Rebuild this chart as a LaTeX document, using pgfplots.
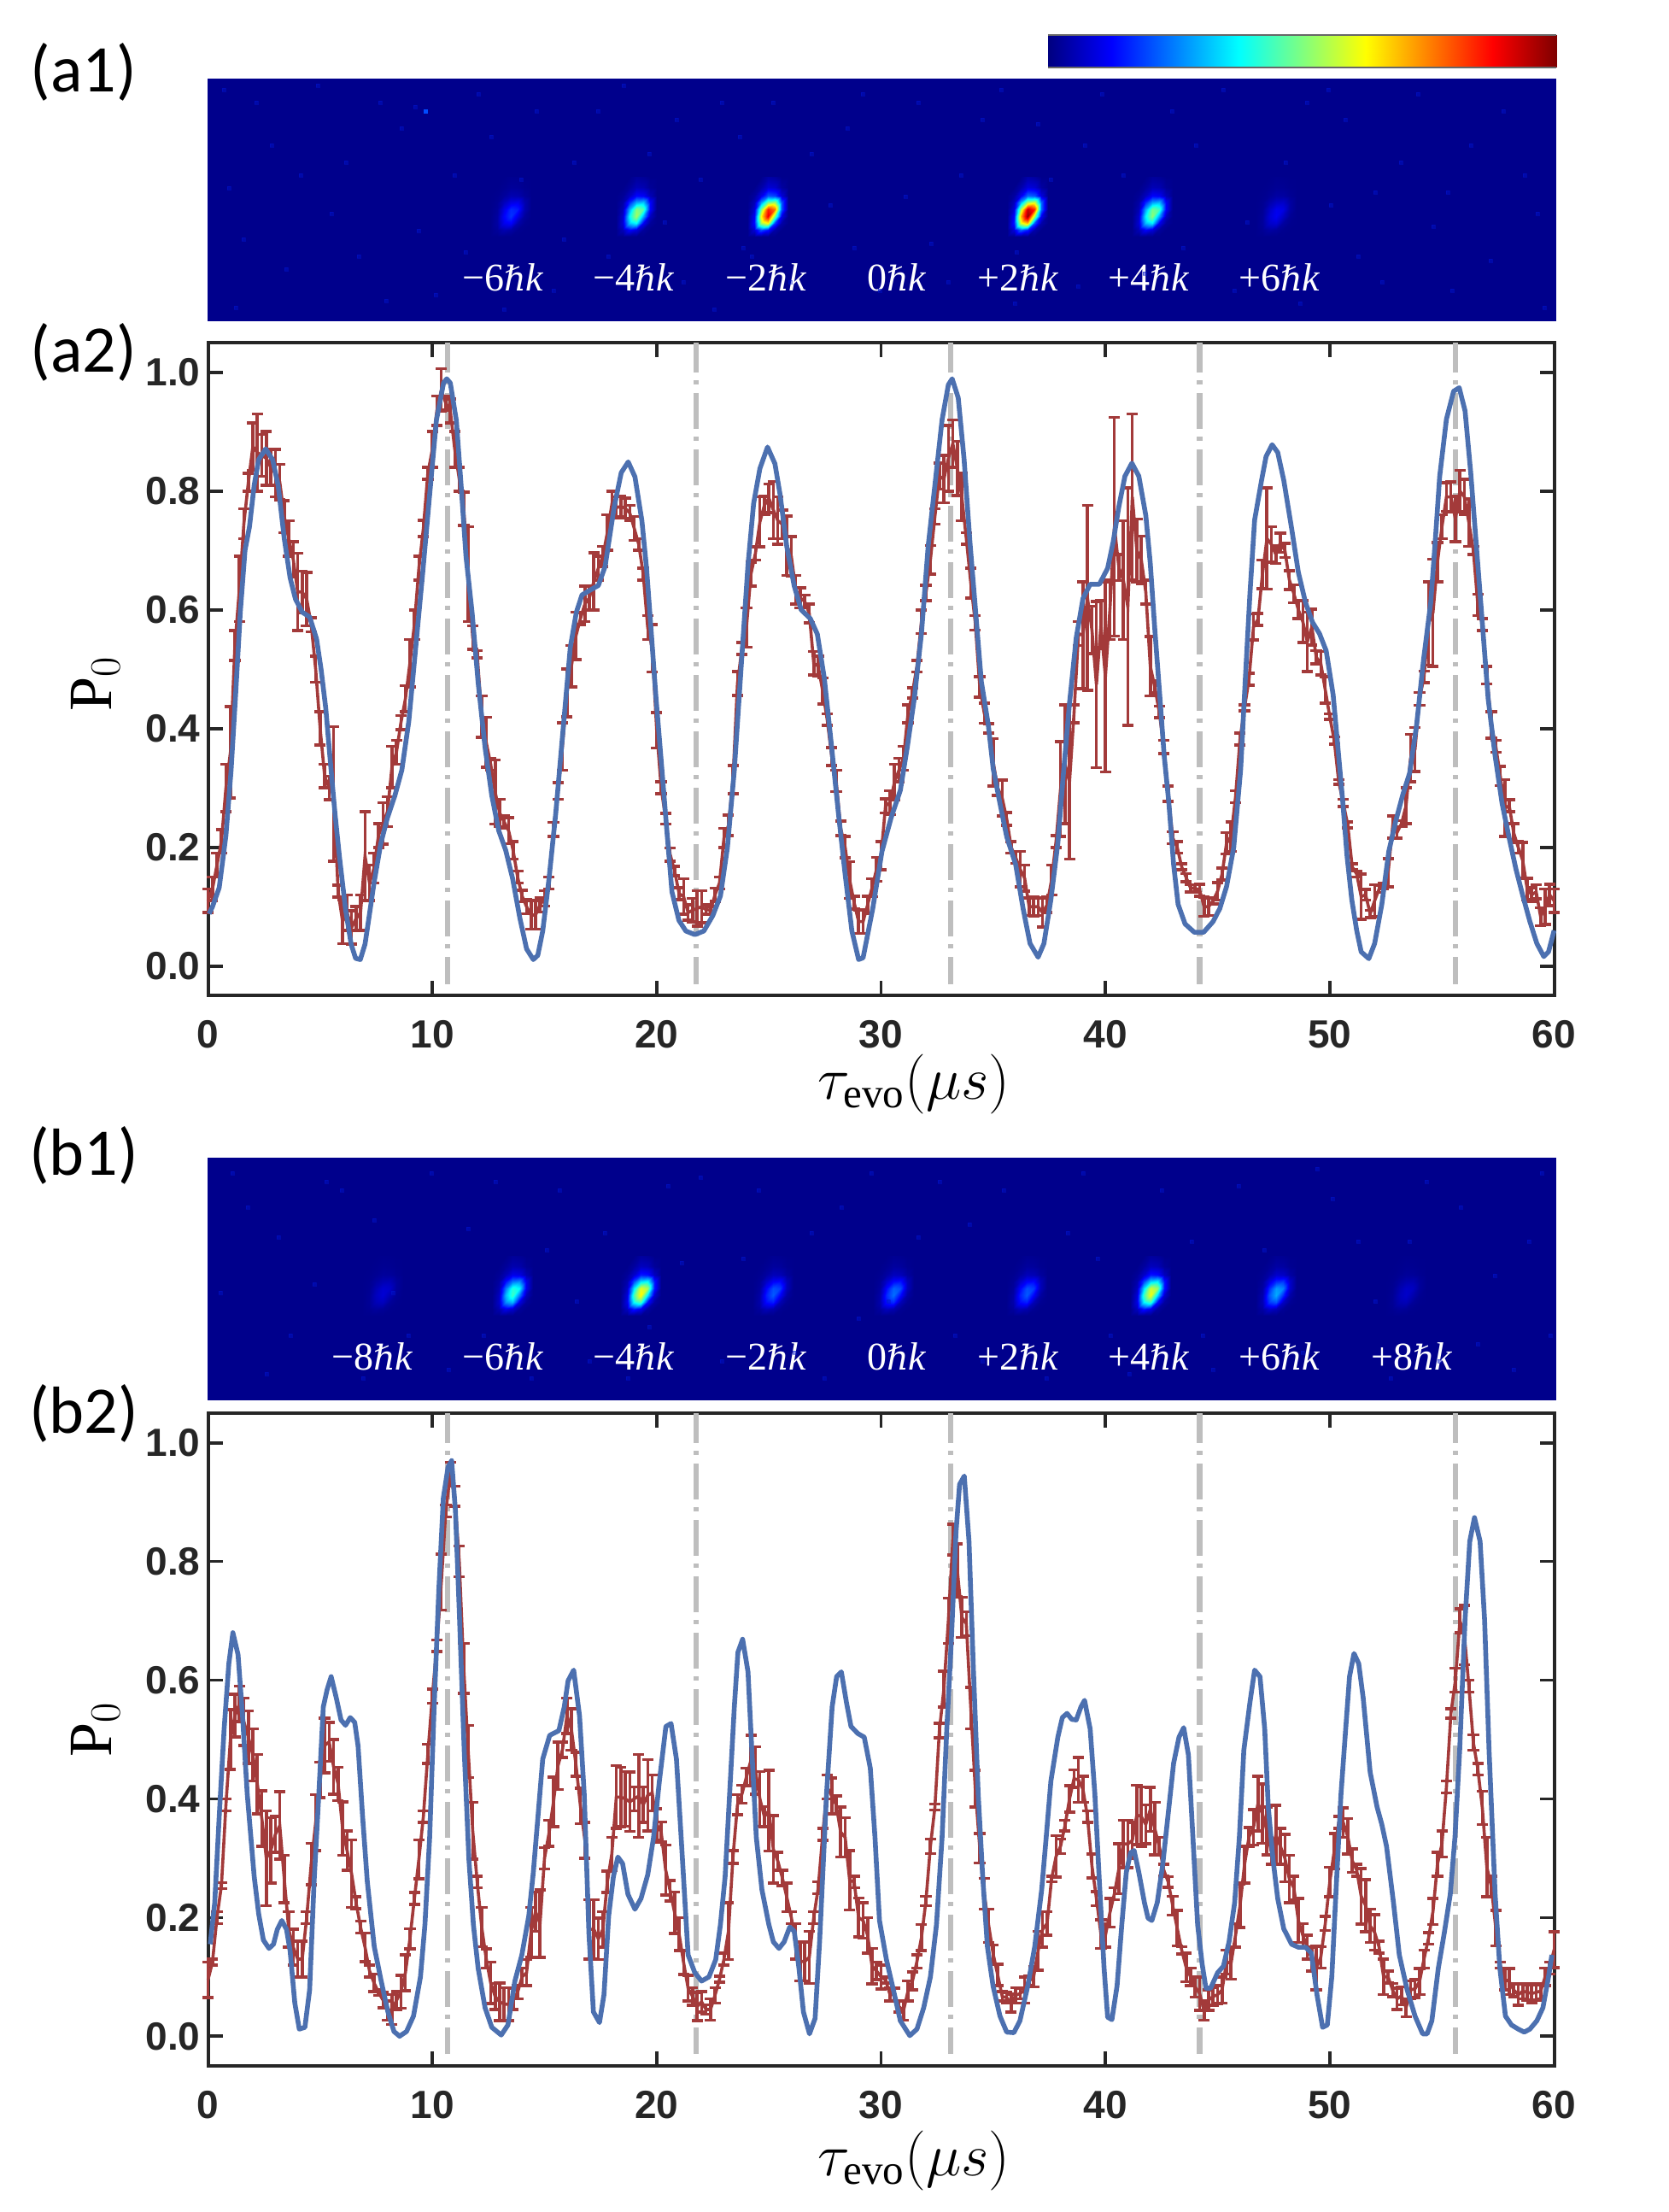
\RequirePackage{fix-cm}
\documentclass[border=0pt]{standalone}
\usepackage{fontspec}
\setmainfont{Liberation Sans}
\setmathrm{Liberation Serif}
\newfontfamily\panelfont{Carlito}
\newfontfamily\labfont{Liberation Serif}
\newfontfamily\hbfont{DejaVu Serif}
\usepackage{pgfplots}
\usepackage{pgfplotstable}
\pgfplotsset{compat=1.18}
\definecolor{dred}{HTML}{A33A3A}
\definecolor{dblue}{HTML}{4C70B0}
\definecolor{vgray}{HTML}{BEBEBE}
\definecolor{frame}{HTML}{262626}
\definecolor{imgbg}{RGB}{0,0,140}
\definecolor{speck}{RGB}{0,20,205}

% one camera spot, normalised, offsets in reference pixels
\pgfplotstableread{
x y v
-24 -40 0
-16 -40 0
-8 -40 0
0 -40 .03
8 -40 .02
16 -40 0
24 -40 0
-24 -28 0
-16 -28 0
-8 -28 .03
0 -28 .08
8 -28 .07
16 -28 .02
24 -28 0
-24 -18 0
-16 -18 .02
-8 -18 .10
0 -18 .22
8 -18 .20
16 -18 .08
24 -18 0
-24 -10 0
-16 -10 .05
-8 -10 .30
0 -10 .55
8 -10 .60
16 -10 .22
24 -10 0
-24 -2 0
-16 -2 .08
-8 -2 .55
0 -2 .95
8 -2 .85
16 -2 .22
24 -2 0
-24 6 0
-16 6 .12
-8 6 .70
0 6 1.0
8 6 .55
16 6 .10
24 6 0
-24 14 0
-16 14 .14
-8 14 .60
0 14 .70
8 14 .20
16 14 .03
24 14 0
-24 22 0
-16 22 .08
-8 22 .22
0 22 .15
8 22 .03
16 22 0
24 22 0
-24 30 0
-16 30 0
-8 30 0
0 30 0
8 30 0
16 30 0
24 30 0
}\spottable

\pgfplotstableread[row sep=\\]{
x y e\\
0 .11 .02\\ .2 .13 .02\\ .4 .17 .02\\ .6 .21 .02\\ .8 .30 .04\\ 1 .36 .077\\ 1.2 .54 .025\\ 1.4 .635 .055\\ 1.6 .745 .025\\ 1.8 .815 .015\\
2 .875 .04\\ 2.2 .865 .065\\ 2.4 .86 .035\\ 2.6 .855 .045\\ 2.8 .84 .03\\ 3 .83 .04\\ 3.2 .815 .03\\ 3.4 .757 .027\\ 3.6 .72 .03\\ 3.8 .685 .03\\
4 .63 .065\\ 4.2 .63 .035\\ 4.4 .618 .045\\ 4.6 .575 .012\\ 4.8 .50 .022\\ 5 .40 .028\\ 5.2 .32 .02\\ 5.4 .30 .02\\ 5.6 .29 .113\\ 5.8 .126 .01\\
6 .075 .037\\ 6.2 .09 .03\\ 6.4 .065 .028\\ 6.6 .08 .02\\ 6.8 .09 .03\\ 7 .185 .075\\ 7.2 .14 .03\\ 7.4 .165 .025\\ 7.6 .22 .02\\ 7.8 .24 .035\\
8 .26 .025\\ 8.2 .335 .035\\ 8.4 .36 .02\\ 8.6 .41 .012\\ 8.8 .45 .022\\ 9 .51 .04\\ 9.2 .575 .025\\ 9.4 .67 .02\\ 9.6 .737 .014\\ 9.8 .83 .01\\
10 .87 .03\\ 10.2 .935 .025\\ 10.4 .97 .036\\ 10.6 .948 .012\\ 10.8 .935 .02\\ 11 .87 .03\\ 11.2 .82 .02\\ 11.4 .77 .028\\ 11.6 .66 .08\\ 11.8 .553 .02\\
12 .525 .006\\ 12.2 .42 .035\\ 12.4 .377 .042\\ 12.6 .34 .01\\ 12.8 .293 .054\\ 13 .258 .023\\ 13.2 .243 .01\\ 13.4 .228 .022\\ 13.6 .195 .015\\ 13.8 .15 .01\\
14 .118 .01\\ 14.2 .1 .012\\ 14.4 .086 .024\\ 14.6 .086 .024\\ 14.8 .103 .012\\ 15 .114 .013\\ 15.2 .14 .01\\ 15.4 .23 .012\\ 15.6 .295 .014\\ 15.8 .37 .04\\
16 .46 .04\\ 16.2 .505 .035\\ 16.4 .556 .04\\ 16.6 .585 .01\\ 16.8 .61 .03\\ 17 .62 .02\\ 17.2 .648 .048\\ 17.4 .67 .02\\ 17.6 .69 .017\\ 17.8 .73 .03\\
18 .777 .023\\ 18.2 .772 .018\\ 18.4 .774 .017\\ 18.6 .771 .017\\ 18.8 .763 .013\\ 19 .737 .02\\ 19.2 .71 .01\\ 19.4 .66 .01\\ 19.6 .57 .02\\ 19.8 .535 .04\\
20 .397 .03\\ 20.2 .3 .01\\ 20.4 .248 .009\\ 20.6 .188 .011\\ 20.8 .16 .008\\ 21 .122 .01\\ 21.2 .117 .03\\ 21.4 .09 .013\\ 21.6 .094 .02\\ 21.8 .097 .03\\
22 .10 .027\\ 22.2 .095 .008\\ 22.4 .094 .006\\ 22.6 .12 .011\\ 22.8 .14 .01\\ 23 .216 .016\\ 23.2 .237 .017\\ 23.4 .314 .024\\ 23.6 .476 .02\\ 23.8 .535 .01\\
24 .57 .033\\ 24.2 .66 .02\\ 24.4 .695 .011\\ 24.6 .748 .042\\ 24.8 .776 .015\\ 25 .788 .024\\ 25.2 .768 .048\\ 25.4 .75 .04\\ 25.6 .744 .024\\ 25.8 .708 .05\\
26 .69 .033\\ 26.2 .634 .024\\ 26.4 .62 .017\\ 26.6 .614 .011\\ 26.8 .594 .016\\ 27 .51 .02\\ 27.2 .505 .017\\ 27.4 .463 .022\\ 27.6 .415 .01\\ 27.8 .353 .015\\
28 .312 .018\\ 28.2 .232 .012\\ 28.4 .2 .018\\ 28.6 .145 .031\\ 28.8 .107 .011\\ 29 .075 .02\\ 29.2 .075 .02\\ 29.4 .103 .015\\ 29.6 .132 .015\\ 29.8 .163 .02\\
30 .186 .024\\ 30.2 .27 .012\\ 30.4 .275 .02\\ 30.6 .31 .03\\ 30.8 .33 .02\\ 31 .35 .02\\ 31.2 .425 .015\\ 31.4 .46 .009\\ 31.6 .505 .01\\ 31.8 .58 .02\\
32 .628 .013\\ 32.2 .684 .024\\ 32.4 .757 .013\\ 32.6 .825 .022\\ 32.8 .82 .04\\ 33 .855 .055\\ 33.2 .88 .04\\ 33.4 .838 .046\\ 33.6 .79 .04\\ 33.8 .72 .01\\
34 .645 .025\\ 34.2 .578 .012\\ 34.4 .47 .017\\ 34.6 .426 .017\\ 34.8 .40 .008\\ 35 .343 .04\\ 35.2 .30 .013\\ 35.4 .283 .03\\ 35.6 .248 .011\\ 35.8 .2 .01\\
36 .183 .01\\ 36.2 .163 .03\\ 36.4 .148 .022\\ 36.6 .10 .015\\ 36.8 .1 .016\\ 37 .1 .015\\ 37.2 .09 .024\\ 37.4 .103 .013\\ 37.6 .145 .025\\ 37.8 .21 .01\\
38 .298 .08\\ 38.2 .34 .1\\ 38.4 .31 .13\\ 38.6 .425 .015\\ 38.8 .56 .02\\ 39 .557 .09\\ 39.2 .62 .156\\ 39.4 .566 .04\\ 39.6 .474 .14\\ 39.8 .575 .04\\
40 .487 .16\\ 40.2 .6 .05\\ 40.4 .74 .184\\ 40.6 .671 .022\\ 40.8 .65 .1\\ 41 .605 .2\\ 41.2 .79 .14\\ 41.4 .70 .053\\ 41.6 .684 .04\\ 41.8 .63 .02\\
42 .505 .05\\ 42.2 .47 .01\\ 42.4 .428 .01\\ 42.6 .369 .011\\ 42.8 .29 .013\\ 43 .216 .01\\ 43.2 .2 .01\\ 43.4 .167 .005\\ 43.6 .149 .007\\ 43.8 .131 .006\\
44 .131 .006\\ 44.2 .128 .01\\ 44.4 .1 .016\\ 44.6 .1 .015\\ 44.8 .11 .005\\ 45 .126 .015\\ 45.2 .155 .01\\ 45.4 .207 .018\\ 45.6 .218 .025\\ 45.8 .285 .01\\
46 .382 .01\\ 46.2 .435 .005\\ 46.4 .483 .01\\ 46.6 .571 .022\\ 46.8 .584 .01\\ 47 .66 .024\\ 47.2 .72 .085\\ 47.4 .71 .03\\ 47.6 .693 .015\\ 47.8 .713 .016\\
48 .70 .012\\ 48.2 .65 .016\\ 48.4 .627 .015\\ 48.6 .60 .015\\ 48.8 .58 .035\\ 49 .546 .05\\ 49.2 .571 .03\\ 49.4 .52 .011\\ 49.6 .51 .02\\ 49.8 .465 .022\\
50 .42 .005\\ 50.2 .38 .006\\ 50.4 .31 .004\\ 50.6 .275 .006\\ 50.8 .238 .005\\ 51 .167 .005\\ 51.2 .155 .005\\ 51.4 .117 .038\\ 51.6 .12 .009\\ 51.8 .088 .006\\
52 .11 .027\\ 52.2 .13 .006\\ 52.4 .135 .005\\ 52.6 .157 .024\\ 52.8 .234 .019\\ 53 .225 .01\\ 53.2 .24 .005\\ 53.4 .27 .03\\ 53.6 .35 .04\\ 53.8 .365 .037\\
54 .45 .011\\ 54.2 .487 .01\\ 54.4 .577 .07\\ 54.6 .595 .09\\ 54.8 .68 .033\\ 55 .74 .02\\ 55.2 .79 .024\\ 55.4 .79 .025\\ 55.6 .753 .038\\ 55.8 .80 .035\\
56 .79 .03\\ 56.2 .747 .04\\ 56.4 .70 .007\\ 56.6 .608 .018\\ 56.8 .575 .01\\ 57 .49 .015\\ 57.2 .406 .022\\ 57.4 .37 .01\\ 57.6 .32 .016\\ 57.8 .266 .048\\
58 .27 .01\\ 58.2 .224 .016\\ 58.4 .2 .01\\ 58.6 .178 .03\\ 58.8 .13 .018\\ 59 .12 .012\\ 59.2 .125 .012\\ 59.4 .083 .015\\ 59.6 .10 .03\\ 59.8 .12 .018\\
60 .11 .02\\
}\reda

\pgfplotstableread[row sep=\\]{
x y e\\
0 .095 .03\\ .2 .125 .005\\ .4 .20 .01\\ .6 .254 .005\\ .8 .39 .01\\ 1 .50 .05\\ 1.2 .54 .036\\ 1.4 .56 .03\\ 1.6 .53 .04\\ 1.8 .504 .044\\
2 .474 .044\\ 2.2 .425 .05\\ 2.4 .367 .047\\ 2.6 .30 .08\\ 2.8 .313 .055\\ 3 .34 .03\\ 3.2 .355 .057\\ 3.4 .265 .04\\ 3.6 .18 .03\\ 3.8 .15 .03\\
4 .13 .03\\ 4.2 .13 .03\\ 4.4 .2 .01\\ 4.6 .29 .035\\ 4.8 .36 .047\\ 5 .432 .03\\ 5.2 .49 .046\\ 5.4 .496 .033\\ 5.6 .454 .046\\ 5.8 .425 .028\\
6 .35 .045\\ 6.2 .313 .033\\ 6.4 .274 .057\\ 6.6 .225 .01\\ 6.8 .184 .01\\ 7 .15 .024\\ 7.2 .11 .01\\ 7.4 .09 .015\\ 7.6 .074 .005\\ 7.8 .061 .013\\
8 .043 .016\\ 8.2 .045 .025\\ 8.4 .06 .015\\ 8.6 .075 .028\\ 8.8 .107 .03\\ 9 .164 .017\\ 9.2 .232 .01\\ 9.4 .298 .033\\ 9.6 .37 .01\\ 9.8 .476 .016\\
10 .573 .012\\ 10.2 .658 .01\\ 10.4 .765 .047\\ 10.6 .885 .01\\ 10.8 .947 .02\\ 11 .91 .017\\ 11.2 .80 .026\\ 11.4 .62 .042\\ 11.6 .48 .044\\ 11.8 .346 .048\\
12 .26 .01\\ 12.2 .184 .033\\ 12.4 .131 .016\\ 12.6 .09 .035\\ 12.8 .067 .022\\ 13 .058 .032\\ 13.2 .054 .028\\ 13.4 .054 .028\\ 13.6 .063 .018\\ 13.8 .074 .011\\
14 .1 .015\\ 14.2 .107 .022\\ 14.4 .175 .042\\ 14.6 .21 .033\\ 14.8 .19 .057\\ 15 .30 .018\\ 15.2 .342 .022\\ 15.4 .395 .042\\ 15.6 .456 .04\\ 15.8 .483 .013\\
16 .54 .03\\ 16.2 .517 .035\\ 16.4 .458 .02\\ 16.6 .388 .03\\ 16.8 .33 .03\\ 17 .18 .05\\ 17.2 .18 .05\\ 17.4 .164 .035\\ 17.6 .18 .03\\ 17.8 .26 .018\\
18 .307 .028\\ 18.2 .403 .053\\ 18.4 .403 .05\\ 18.6 .40 .046\\ 18.8 .395 .05\\ 19 .40 .02\\ 19.2 .405 .07\\ 19.4 .39 .03\\ 19.6 .406 .06\\ 19.8 .41 .03\\
20 .357 .026\\ 20.2 .344 .017\\ 20.4 .28 .042\\ 20.6 .245 .017\\ 20.8 .208 .035\\ 21 .172 .028\\ 21.2 .124 .02\\ 21.4 .081 .022\\ 21.6 .067 .015\\ 21.8 .05 .024\\
22 .058 .017\\ 22.2 .045 .008\\ 22.4 .045 .018\\ 22.6 .069 .013\\ 22.8 .096 .005\\ 23 .13 .01\\ 23.2 .177 .048\\ 23.4 .302 .011\\ 23.6 .39 .017\\ 23.8 .408 .015\\
24 .437 .015\\ 24.2 .465 .042\\ 24.4 .448 .04\\ 24.6 .40 .046\\ 24.8 .37 .017\\ 25 .38 .068\\ 25.2 .315 .057\\ 25.4 .295 .015\\ 25.6 .267 .013\\ 25.8 .234 .024\\
26 .2 .01\\ 26.2 .16 .03\\ 26.4 .126 .033\\ 26.6 .126 .033\\ 26.8 .133 .044\\ 27 .2 .01\\ 27.2 .25 .01\\ 27.4 .34 .01\\ 27.6 .42 .02\\ 27.8 .405 .03\\
28 .39 .015\\ 28.2 .344 .042\\ 28.4 .335 .033\\ 28.6 .263 .05\\ 28.8 .26 .01\\ 29 .2 .033\\ 29.2 .195 .03\\ 29.4 .17 .03\\ 29.6 .118 .03\\ 29.8 .11 .015\\
30 .1 .02\\ 30.2 .095 .005\\ 30.4 .07 .011\\ 30.6 .07 .011\\ 30.8 .05 .009\\ 31 .043 .016\\ 31.2 .076 .017\\ 31.4 .093 .015\\ 31.6 .126 .011\\ 31.8 .166 .022\\
32 .228 .008\\ 32.2 .32 .012\\ 32.4 .386 .005\\ 32.6 .515 .012\\ 32.8 .585 .03\\ 33 .70 .038\\ 33.2 .837 .026\\ 33.4 .785 .045\\ 33.6 .706 .034\\ 33.8 .695 .02\\
34 .553 .035\\ 34.2 .417 .031\\ 34.4 .317 .025\\ 34.6 .24 .026\\ 34.8 .186 .028\\ 35 .138 .016\\ 35.2 .103 .018\\ 35.4 .067 .008\\ 35.6 .065 .009\\ 35.8 .056 .015\\
36 .069 .013\\ 36.2 .072 .009\\ 36.4 .078 .022\\ 36.6 .093 .008\\ 36.8 .10 .017\\ 37 .144 .033\\ 37.2 .18 .03\\ 37.4 .19 .02\\ 37.6 .265 .005\\ 37.8 .303 .035\\
38 .32 .012\\ 38.2 .355 .009\\ 38.4 .40 .022\\ 38.6 .434 .015\\ 38.8 .432 .038\\ 39 .416 .022\\ 39.2 .37 .01\\ 39.4 .287 .02\\ 39.6 .232 .012\\ 39.8 .172 .024\\
40 .17 .02\\ 40.2 .208 .024\\ 40.4 .24 .01\\ 40.6 .282 .042\\ 40.8 .324 .04\\ 41 .324 .04\\ 41.2 .33 .03\\ 41.4 .373 .05\\ 41.6 .37 .05\\ 41.8 .357 .033\\
42 .382 .037\\ 42.2 .35 .044\\ 42.4 .32 .015\\ 42.6 .28 .01\\ 42.8 .26 .009\\ 43 .22 .016\\ 43.2 .182 .03\\ 43.4 .145 .006\\ 43.6 .116 .024\\ 43.8 .10 .015\\
44 .083 .017\\ 44.2 .072 .028\\ 44.4 .043 .016\\ 44.6 .061 .017\\ 44.8 .067 .015\\ 45 .07 .015\\ 45.2 .078 .022\\ 45.4 .125 .02\\ 45.6 .123 .027\\ 45.8 .17 .02\\
46 .22 .037\\ 46.2 .289 .031\\ 46.4 .336 .016\\ 46.6 .352 .03\\ 46.8 .392 .046\\ 47 .375 .05\\ 47.2 .346 .04\\ 47.4 .31 .02\\ 47.6 .339 .05\\ 47.8 .32 .03\\
48 .30 .04\\ 48.2 .265 .04\\ 48.4 .25 .02\\ 48.6 .195 .037\\ 48.8 .17 .02\\ 49 .15 .02\\ 49.2 .13 .02\\ 49.4 .115 .037\\ 49.6 .133 .018\\ 49.8 .19 .012\\
50 .26 .025\\ 50.2 .312 .03\\ 50.4 .36 .01\\ 50.6 .36 .025\\ 50.8 .337 .03\\ 51 .296 .02\\ 51.2 .28 .01\\ 51.4 .236 .047\\ 51.6 .22 .044\\ 51.8 .186 .028\\
52 .175 .03\\ 52.2 .15 .01\\ 52.4 .10 .03\\ 52.6 .10 .01\\ 52.8 .078 .011\\ 53 .063 .018\\ 53.2 .068 .015\\ 53.4 .048 .015\\ 53.6 .078 .015\\ 53.8 .08 .015\\
54 .092 .022\\ 54.2 .13 .015\\ 54.4 .165 .01\\ 54.6 .21 .022\\ 54.8 .29 .02\\ 55 .324 .022\\ 55.2 .42 .01\\ 55.4 .544 .008\\ 55.6 .60 .02\\ 55.8 .70 .02\\
56 .676 .05\\ 56.2 .59 .01\\ 56.4 .495 .013\\ 56.6 .45 .01\\ 56.8 .385 .028\\ 57 .285 .05\\ 57.2 .253 .017\\ 57.4 .182 .03\\ 57.6 .12 .005\\ 57.8 .096 .018\\
58 .092 .022\\ 58.2 .078 .011\\ 58.4 .07 .018\\ 58.6 .076 .013\\ 58.8 .074 .013\\ 59 .072 .016\\ 59.2 .074 .013\\ 59.4 .076 .013\\ 59.6 .10 .015\\ 59.8 .115 .01\\
60 .146 .03\\
}\redb

\pgfplotsset{
  img/.style={scale only axis,width=789.5pt,height=142pt,xmin=243,xmax=1822,ymin=92,ymax=376,
    y dir=reverse,ticks=none,axis line style={draw=none},colormap/jet,point meta min=0,point meta max=1,
    axis background/.style={fill=imgbg},anchor=south west,clip=true},
  panel/.style={scale only axis,width=788pt,height=382.25pt,xmin=0,xmax=60,ymin=-0.05,ymax=1.05,anchor=south west,clip=false,
    xtick={0,10,20,30,40,50,60},ytick={0,0.2,0.4,0.6,0.8,1},
    tick align=inside,major tick length=8.5pt,every tick/.style={frame,line width=1.8pt},
    axis line style={frame,line width=2pt},
    tick label style={text=frame,font=\bfseries\fontsize{23}{25}\selectfont},
    /pgf/number format/assume math mode=true,
    yticklabel style={/pgf/number format/fixed,/pgf/number format/fixed zerofill,/pgf/number format/precision=1,xshift=-1pt},
    xticklabel style={yshift=-11pt}},
  vline/.style={vgray,line width=3.2pt,dash pattern=on 21pt off 5pt on 2.5pt off 4.5pt,dash phase=5.25pt,forget plot},
  fit/.style={dblue,line width=2.8pt,line join=round},
  meas/.style={dred,line width=1.8pt,
    error bars/.cd,y dir=both,y explicit,error bar style={dred,line width=1.8pt},
    error mark options={rotate=90,dred,mark size=3.3pt,line width=1.8pt}},
  specks/.style={only marks,mark=square*,mark size=1pt,speck,opacity=.45,forget plot}
}
\newcommand{\spot}[3]{\addplot[surf,shader=interp,mesh/cols=7,point meta=explicit,forget plot]
  table[x expr=\thisrow{x}+#1,y expr=\thisrow{y}+#2,meta expr=0.012+#3*\thisrow{v}]{\spottable};}
\newcommand{\orderlabel}[3]{\node[text=white,inner sep=0pt,font=\labfont\fontsize{23}{25}\selectfont] at (axis cs:#1,#2) {#3{\hbfont\itshape\fontsize{20}{22}\selectfont ℏ}\textit{k}};}

\begin{document}
\begin{tikzpicture}
\path[use as bounding box] (0,0) rectangle (976.5pt,1294.5pt);

% colour bar
\begin{axis}[scale only axis,at={(613.5pt,1255pt)},anchor=south west,width=297.5pt,height=19pt,
  xmin=0,xmax=1,ymin=0,ymax=1,ticks=none,axis line style={draw=none},colormap/jet,point meta min=0,point meta max=1]
\addplot[surf,shader=interp,mesh/cols=2,point meta=explicit] coordinates {(0,0) [0] (1,0) [1] (0,1) [0] (1,1) [1]};
\end{axis}
\draw[frame!70,line width=1.2pt] (613.5pt,1274pt) -- (911pt,1274pt) (613.5pt,1255pt) -- (911pt,1255pt);

% (a1)
\begin{axis}[img,at={(121.5pt,1106.5pt)}]
\addplot[specks] coordinates {
(300,120)(352,205)(420,300)(470,150)(510,345)(560,110)(610,210)(660,280)(700,130)(760,180)(800,330)(845,120)
(880,300)(950,180)(1010,110)(1060,230)(1110,330)(1150,140)(1230,210)(1290,110)(1340,320)(1400,170)(1460,260)
(1530,120)(1590,300)(1640,190)(1700,340)(1760,130)(1800,250)(285,280)(1000,290)(870,290)(1190,295)
(262,105)(268,220)(276,360)(318,170)(335,315)(372,100)(388,250)(405,190)(445,120)(452,352)(486,125)(490,270)
(532,205)(545,295)(575,160)(590,362)(628,130)(648,340)(672,190)(712,300)(730,100)(778,260)(792,140)(820,210)
(836,362)(866,160)(905,120)(925,330)(972,240)(992,150)(1030,340)(1075,120)(1090,285)(1125,205)(1172,105)(1188,355)
(1215,145)(1262,335)(1270,170)(1315,205)(1372,130)(1385,290)(1432,105)(1445,340)(1505,190)(1522,355)(1558,240)(1575,140)
(1618,330)(1660,110)(1678,265)(1722,170)(1745,305)(1785,205)(1808,360)(1555,105)(1695,225)(1610,225)};
\addplot[only marks,mark=square*,mark size=1pt,blue!70!cyan,forget plot] coordinates {(498,130)};
\spot{598}{247}{.16}
\spot{745}{247}{.52}
\spot{899}{247}{.88}
\spot{1203}{247}{.97}
\spot{1349}{247}{.50}
\spot{1494}{247}{.10}
\orderlabel{589}{325}{−6}
\orderlabel{742}{325}{−4}
\orderlabel{897}{325}{−2}
\orderlabel{1050}{325}{0}
\orderlabel{1192}{325}{+2}
\orderlabel{1345}{325}{+4}
\orderlabel{1498}{325}{+6}
\end{axis}

% (a2)
\begin{axis}[panel,at={(121.75pt,711.75pt)}]
\addplot[vline] coordinates {(10.68,-0.03)(10.68,1.05)};
\addplot[vline] coordinates {(21.76,-0.03)(21.76,1.05)};
\addplot[vline] coordinates {(33.1,-0.03)(33.1,1.05)};
\addplot[vline] coordinates {(44.2,-0.03)(44.2,1.05)};
\addplot[vline] coordinates {(55.6,-0.03)(55.6,1.05)};
\addplot[meas] table[x=x,y=y,y error=e]{\reda};
\addplot[fit] coordinates {
(.05,.088)(.2,.1)(.5,.132)(.8,.22)(1.03,.33)(1.23,.456)(1.44,.596)(1.65,.70)(1.85,.74)(2.06,.81)(2.26,.853)(2.57,.871)(2.88,.853)(3.13,.809)(3.4,.72)(3.66,.654)(3.9,.618)(4.2,.596)(4.53,.588)(4.84,.551)
(5.04,.50)(5.25,.434)(5.45,.346)(5.66,.257)(5.86,.184)(6.13,.096)(6.38,.037)(6.58,.013)(6.79,.011)(7,.037)(7.2,.088)(7.4,.14)(7.7,.206)(8,.25)(8.33,.287)(8.64,.33)(8.95,.412)(9.26,.537)(9.57,.662)(9.88,.794)
(10.18,.919)(10.5,.982)(10.64,.989)(10.8,.982)(11.07,.919)(11.3,.80)(11.5,.69)(11.77,.596)(12.04,.478)(12.35,.368)(12.65,.287)(12.96,.228)(13.27,.195)(13.58,.147)(13.9,.081)(14.2,.029)(14.5,.011)(14.7,.018)(14.92,.059)(15.2,.147)
(15.5,.257)(15.84,.404)(16.15,.537)(16.42,.596)(16.67,.625)(16.98,.632)(17.4,.641)(17.7,.673)(18.1,.772)(18.42,.831)(18.73,.849)(19.03,.824)(19.34,.75)(19.55,.669)(19.75,.566)(19.96,.456)(20.2,.346)(20.47,.22)(20.68,.125)(20.99,.077)
(21.3,.059)(21.7,.053)(22.1,.059)(22.5,.085)(22.84,.118)(23.15,.199)(23.46,.33)(23.77,.507)(24.07,.676)(24.32,.779)(24.6,.838)(24.94,.874)(25.27,.846)(25.5,.794)(25.8,.706)(26.13,.64)(26.44,.60)(26.85,.585)(27.16,.559)(27.47,.485)
(27.78,.375)(28.1,.257)(28.4,.154)(28.7,.059)(29,.011)(29.2,.014)(29.63,.097)(30.04,.193)(30.45,.25)(30.86,.296)(31.17,.369)(31.48,.45)(31.8,.56)(32.1,.707)(32.4,.81)(32.72,.92)(33,.979)(33.17,.989)(33.44,.957)(33.7,.854)
(33.96,.715)(34.2,.604)(34.47,.479)(34.78,.406)(35,.332)(35.3,.274)(35.6,.218)(36,.171)(36.33,.097)(36.64,.038)(37,.015)(37.26,.038)(37.57,.112)(37.88,.207)(38.13,.325)(38.4,.443)(38.7,.553)(39,.619)(39.32,.643)(39.73,.643)
(40.1,.67)(40.35,.715)(40.6,.774)(40.87,.825)(41.18,.847)(41.49,.825)(41.8,.759)(42,.678)(42.2,.568)(42.42,.457)(42.62,.354)(42.83,.274)(43.04,.171)(43.24,.104)(43.55,.071)(43.96,.057)(44.38,.057)(44.8,.075)(45.1,.097)(45.4,.134)
(45.72,.2)(46.03,.332)(46.23,.479)(46.44,.626)(46.65,.751)(46.96,.818)(47.16,.858)(47.43,.878)(47.68,.865)(47.95,.818)(48.3,.737)(48.6,.663)(48.92,.612)(49.23,.579)(49.54,.56)(49.84,.531)(50.15,.457)(50.36,.369)(50.57,.281)(50.77,.185)
(50.98,.112)(51.2,.06)(51.4,.024)(51.74,.0125)(52,.038)(52.32,.104)(52.63,.193)(52.94,.244)(53.25,.288)(53.56,.325)(53.87,.406)(54.18,.516)(54.5,.612)(54.7,.715)(54.9,.825)(55.2,.921)(55.52,.968)(55.77,.974)(56.03,.935)(56.28,.832)
(56.55,.70)(56.82,.568)(57.06,.45)(57.37,.354)(57.68,.274)(58,.215)(58.3,.163)(58.6,.119)(58.92,.075)(59.23,.038)(59.54,.016)(59.75,.024)(60,.06)};
\end{axis}

% (b1)
\begin{axis}[img,at={(121.5pt,475pt)}]
\addplot[specks] coordinates {
(290,150)(340,300)(400,130)(460,250)(525,340)(580,120)(640,200)(690,330)(760,290)(820,115)(870,210)(930,320)(985,150)
(1040,260)(1100,120)(1150,330)(1250,180)(1300,300)(1360,130)(1420,340)(1480,200)(1560,140)(1610,260)(1670,120)(1730,310)(1790,190)
(258,250)(272,110)(312,345)(326,185)(368,240)(382,120)(425,350)(438,165)(478,300)(505,110)(548,175)(566,300)(622,350)(655,130)
(675,260)(708,180)(735,350)(782,125)(798,215)(845,330)(888,130)(950,180)(965,350)(1005,280)(1020,110)(1075,185)(1118,300)(1135,170)
(1175,130)(1225,350)(1268,110)(1285,210)(1322,345)(1395,190)(1408,300)(1450,125)(1525,320)(1542,105)(1590,190)(1628,350)(1650,190)
(1685,330)(1710,150)(1750,230)(1772,340)(1805,110)(1815,300)};
\spot{448}{247}{.07}
\spot{600}{247}{.42}
\spot{750}{247}{.62}
\spot{905}{247}{.20}
\spot{1046}{247}{.22}
\spot{1202}{247}{.20}
\spot{1347}{247}{.60}
\spot{1494}{247}{.28}
\spot{1646}{247}{.06}
\orderlabel{436}{325}{−8}
\orderlabel{589}{325}{−6}
\orderlabel{742}{325}{−4}
\orderlabel{897}{325}{−2}
\orderlabel{1050}{325}{0}
\orderlabel{1192}{325}{+2}
\orderlabel{1345}{325}{+4}
\orderlabel{1498}{325}{+6}
\orderlabel{1653}{325}{+8}
\end{axis}

% (b2)
\begin{axis}[panel,at={(121.75pt,85.5pt)},height=382pt]
\addplot[vline] coordinates {(10.68,-0.03)(10.68,1.05)};
\addplot[vline] coordinates {(21.76,-0.03)(21.76,1.05)};
\addplot[vline] coordinates {(33.1,-0.03)(33.1,1.05)};
\addplot[vline] coordinates {(44.2,-0.03)(44.2,1.05)};
\addplot[vline] coordinates {(55.6,-0.03)(55.6,1.05)};
\addplot[meas] table[x=x,y=y,y error=e]{\redb};
\addplot[fit] coordinates {
(.1,.155)(.3,.225)(.5,.37)(.72,.518)(.93,.628)(1.11,.68)(1.34,.643)(1.54,.54)(1.75,.408)(2.06,.269)(2.26,.206)(2.47,.162)(2.72,.148)(2.92,.155)(3.09,.18)(3.29,.195)(3.5,.18)(3.66,.144)(3.87,.056)(4.07,.012)
(4.32,.015)(4.53,.078)(4.73,.261)(4.94,.408)(5.14,.555)(5.31,.584)(5.49,.606)(5.72,.57)(5.93,.533)(6.13,.524)(6.34,.537)(6.54,.529)(6.69,.489)(6.89,.371)(7.1,.261)(7.41,.151)(7.72,.093)(8.02,.041)(8.29,.008)(8.54,0)
(8.85,.008)(9.16,.034)(9.47,.1)(9.67,.188)(9.88,.335)(10.08,.555)(10.29,.753)(10.49,.907)(10.7,.959)(10.86,.97)(11.03,.885)(11.2,.717)(11.42,.482)(11.63,.298)(11.83,.188)(12.04,.115)(12.35,.048)(12.65,.015)(13.07,.002)(13.37,.019)
(13.68,.093)(13.99,.137)(14.3,.203)(14.5,.276)(14.71,.371)(14.92,.467)(15.23,.507)(15.64,.515)(15.88,.555)(16.05,.599)(16.3,.617)(16.56,.54)(16.77,.408)(16.98,.173)(17.18,.041)(17.45,.023)(17.65,.07)(17.86,.203)(18.07,.269)(18.27,.302)
(18.48,.291)(18.72,.239)(19.03,.214)(19.3,.232)(19.6,.272)(19.86,.335)(20.12,.43)(20.41,.522)(20.64,.527)(20.88,.467)(21.09,.335)(21.4,.137)(21.7,.107)(22,.093)(22.33,.1)(22.63,.129)(22.84,.188)(23.05,.269)(23.25,.408)(23.46,.555)
(23.62,.647)(23.83,.669)(24.07,.614)(24.24,.482)(24.44,.335)(24.69,.247)(25,.188)(25.2,.159)(25.45,.148)(25.68,.159)(25.93,.184)(26.13,.177)(26.34,.115)(26.54,.041)(26.81,.004)(27.06,.03)(27.26,.159)(27.57,.408)(27.82,.555)(28.02,.606)
(28.23,.614)(28.46,.562)(28.66,.522)(28.97,.51)(29.25,.504)(29.52,.452)(29.73,.335)(29.93,.195)(30.24,.129)(30.55,.078)(30.86,.026)(31.28,.001)(31.6,.012)(31.9,.048)(32.2,.1)(32.47,.188)(32.72,.335)(32.93,.518)(33.13,.665)(33.34,.849)
(33.5,.93)(33.71,.944)(33.92,.834)(34.12,.614)(34.33,.408)(34.53,.269)(34.74,.151)(34.99,.085)(35.3,.034)(35.6,.007)(35.92,.006)(36.19,.026)(36.54,.085)(36.85,.151)(37.16,.247)(37.36,.335)(37.57,.43)(37.88,.504)(38.08,.537)(38.29,.544)
(38.5,.534)(38.7,.533)(38.91,.555)(39.07,.566)(39.32,.518)(39.53,.408)(39.73,.261)(39.94,.115)(40.1,.032)(40.29,.028)(40.52,.085)(40.73,.188)(40.93,.276)(41.12,.309)(41.28,.313)(41.49,.276)(41.74,.225)(41.9,.199)(42.07,.195)(42.31,.225)
(42.56,.291)(42.83,.386)(43.04,.46)(43.28,.504)(43.49,.52)(43.7,.474)(43.9,.335)(44.11,.188)(44.31,.122)(44.48,.081)(44.69,.081)(45,.107)(45.26,.118)(45.51,.159)(45.76,.225)(45.97,.335)(46.17,.482)(46.44,.562)(46.65,.617)(46.89,.606)
(47.1,.518)(47.26,.386)(47.47,.298)(47.68,.232)(47.95,.181)(48.3,.155)(48.6,.15)(48.92,.15)(49.18,.14)(49.43,.07)(49.68,.015)(49.89,.019)(50.09,.1)(50.3,.261)(50.5,.408)(50.71,.518)(50.88,.606)(51.08,.645)(51.29,.628)(51.49,.57)
(51.8,.445)(52.11,.386)(52.32,.357)(52.53,.32)(52.84,.225)(53.1,.137)(53.45,.078)(53.8,.034)(54.14,.004)(54.34,.004)(54.55,.026)(54.84,.115)(55.1,.173)(55.37,.239)(55.58,.335)(55.79,.482)(56.03,.702)(56.24,.834)(56.45,.874)(56.7,.834)
(56.9,.702)(57.1,.482)(57.37,.239)(57.58,.115)(57.83,.034)(58.1,.019)(58.4,.012)(58.67,.007)(58.92,.012)(59.23,.026)(59.5,.048)(59.75,.1)(59.9,.137)};
\end{axis}

% panel letters and axis titles, set by reference pixel positions
\node[font=\panelfont\fontsize{39}{42}\selectfont] at (49pt,1252.5pt) {(a1)};
\node[font=\panelfont\fontsize{39}{42}\selectfont] at (49pt,1088.5pt) {(a2)};
\node[font=\panelfont\fontsize{39}{42}\selectfont] at (49pt,618.5pt) {(b1)};
\node[font=\panelfont\fontsize{39}{42}\selectfont] at (49pt,467.5pt) {(b2)};
\node[rotate=90,font=\fontsize{36}{38}\selectfont] at (56pt,894.5pt) {$\mathrm{P}_0$};
\node[rotate=90,font=\fontsize{36}{38}\selectfont] at (56pt,282.5pt) {$\mathrm{P}_0$};
\node[font=\fontsize{35}{37}\selectfont] at (535pt,660pt) {$\tau_{\mathrm{evo}}(\mu s)$};
\node[font=\fontsize{35}{37}\selectfont] at (535pt,30pt) {$\tau_{\mathrm{evo}}(\mu s)$};
\end{tikzpicture}
\end{document}
